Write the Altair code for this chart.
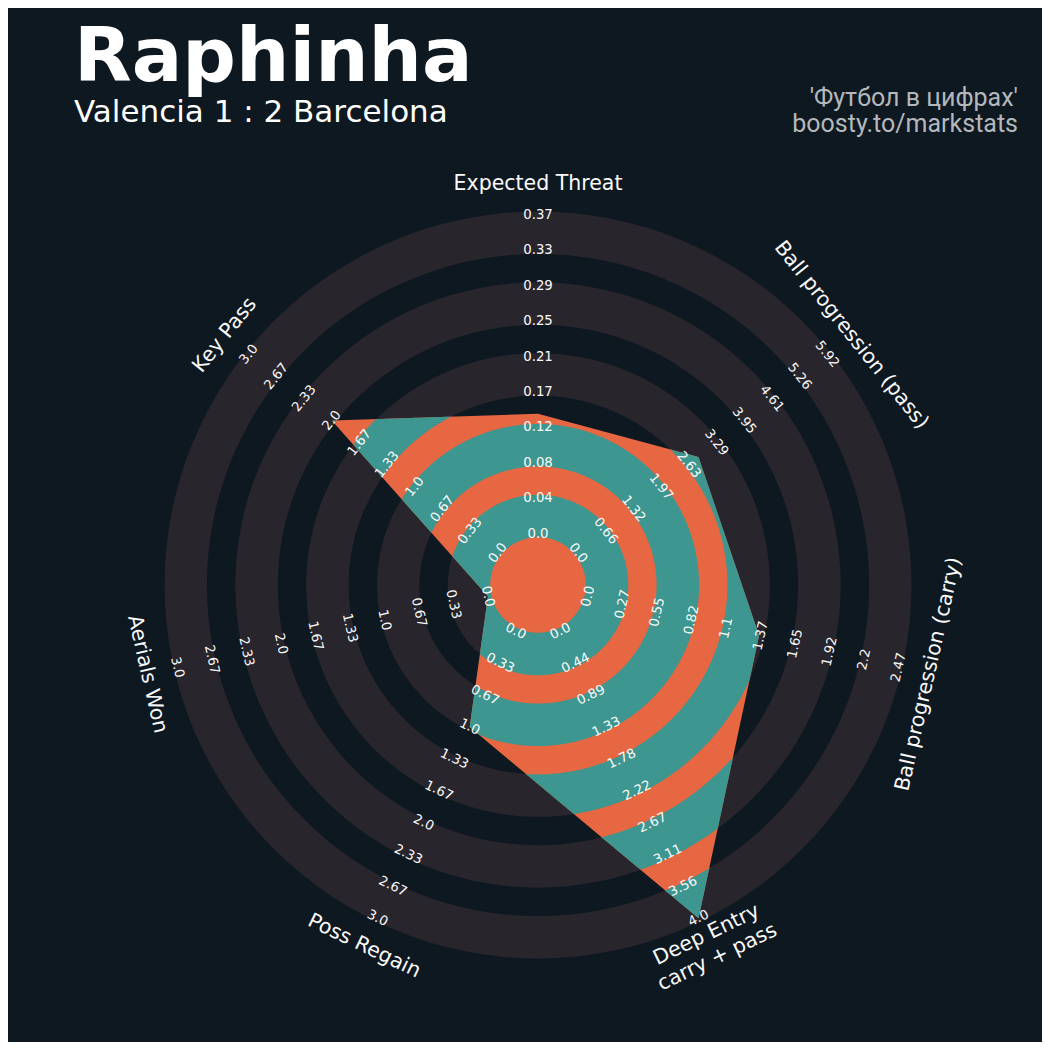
import math
import altair as alt
import pandas as pd

# ---------------- data ----------------
params = ["Expected Threat", "Ball progression (pass)", "Ball progression (carry)",
          "Deep Entry\ncarry + pass", "Poss Regain", "Aerials Won", "Key Pass"]
values = [0.14, 2.86, 1.36, 4.0, 1.0, 0.0, 2.0]
min_range = [0.0, 0.0, 0.0, 0.0, 0.0, 0.0, 0.0]
max_range = [0.372, 5.92, 2.47, 4.0, 3.0, 3.0, 3.0]
labels_xt = ["0.0", "0.04", "0.08", "0.12", "0.17", "0.21", "0.25", "0.29", "0.33", "0.37"]
labels_pass = ["0.0", "0.66", "1.32", "1.97", "2.63", "3.29", "3.95", "4.61", "5.26", "5.92"]
labels_carry = ["0.0", "0.27", "0.55", "0.82", "1.1", "1.37", "1.65", "1.92", "2.2", "2.47"]
labels_deep = ["0.0", "0.44", "0.89", "1.33", "1.78", "2.22", "2.67", "3.11", "3.56", "4.0"]
labels_three = ["0.0", "0.33", "0.67", "1.0", "1.33", "1.67", "2.0", "2.33", "2.67", "3.0"]
range_labels = [labels_xt, labels_pass, labels_carry, labels_deep,
                labels_three, labels_three, labels_three]
title_text = ["Raphinha"]
subtitle_text = ["Valencia 1 : 2 Barcelona"]
credit_line1 = ["'Футбол в цифрах'"]
credit_line2 = ["boosty.to/markstats"]

# ---------------- style ----------------
BG = "#0e1820"
GRAY = "#28252c"
TEAL = "#3d968f"
ORANGE = "#e66741"
TXT = "#fafafa"

PX = 35.4          # pixels per radial unit
C = 1.45           # centre circle radius (units)
NR = 9             # label steps
E = 0.1            # ring widening
W = H = 1034
CX, CY = 530.0, 577.0   # centre in plot pixels
PAR_FS = 20.5
PAR_LH = 25.0
xdom = [-CX / PX, (W - CX) / PX]
ydom = [-(H - CY) / PX, CY / PX]
XS = alt.Scale(domain=xdom, nice=False, zero=False)
YS = alt.Scale(domain=ydom, nice=False, zero=False)

n = len(params)
angles = [i * 360.0 / n for i in range(n)]


def pos(r, th_deg):
    t = math.radians(th_deg)
    return r * math.sin(t), r * math.cos(t)


# ---------------- background rings ----------------
ring_rows = []
for j in range(5):
    ring_rows.append({"cx": 0.0, "cy": 0.0, "ri": C + 2 * j - E, "ro": C + 2 * j + 1 + E})
rings_df = pd.DataFrame(ring_rows)

# ---------------- polygon ----------------
radii = [C + NR * (v - lo) / (hi - lo) for v, lo, hi in zip(values, min_range, max_range)]
verts = [pos(r, a) for r, a in zip(radii, angles)]
poly_df = pd.DataFrame({"x": [p[0] for p in verts], "y": [p[1] for p in verts],
                        "i": list(range(n))})


def cross(a, b):
    return a[0] * b[1] - a[1] * b[0]


def R_of(th):
    th = th % 360.0
    i = min(int(th // (360.0 / n)), n - 1)
    p0 = verts[i]
    p1 = verts[(i + 1) % n]
    e = (p1[0] - p0[0], p1[1] - p0[1])
    t = math.radians(th)
    d = (math.sin(t), math.cos(t))
    return cross(p0, e) / cross(d, e)


thetas = sorted(set([k * 0.5 for k in range(720)] + angles))
thetas.append(360.0)
teal_rows = []
for j in range(5):
    a = C + 2 * j - E
    b = C + 2 * j + 1 + E
    k = 0
    for th in thetas:
        r = min(max(R_of(th), a), b)
        x, y = pos(r, th)
        teal_rows.append({"ring": j, "o": k, "x": x, "y": y})
        k += 1
    for th in reversed(thetas):
        x, y = pos(a, th)
        teal_rows.append({"ring": j, "o": k, "x": x, "y": y})
        k += 1
teal_df = pd.DataFrame(teal_rows)


def rot(th):
    r = th - 180 if 90 < th < 270 else th
    return r % 360


# ---------------- range labels ----------------
lab_rows = []
for i, a in enumerate(angles):
    for k, t in enumerate(range_labels[i]):
        x, y = pos(C + k, a)
        lab_rows.append({"x": x, "y": y, "t": t, "ang": rot(a)})
lab_df = pd.DataFrame(lab_rows)

par_rows = []
for i, a in enumerate(angles):
    nlines = params[i].count("\n") + 1
    shift = (nlines - 1) / 2 * PAR_LH / PX
    lower = 90 < a < 270
    r = C + NR + 0.87 + (-shift if lower else shift)
    x, y = pos(r, a)
    par_rows.append({"x": x, "y": y, "t": params[i], "ang": rot(a)})
par_df = pd.DataFrame(par_rows)

# ---------------- layers ----------------
enc_xy = dict(x=alt.X("x:Q", scale=XS, axis=None), y=alt.Y("y:Q", scale=YS, axis=None))

rings = alt.Chart(rings_df).mark_arc(color=GRAY).encode(
    x=alt.X("cx:Q", scale=XS, axis=None),
    y=alt.Y("cy:Q", scale=YS, axis=None),
    radius=alt.Radius("ro:Q", scale=alt.Scale(type="linear", domain=[0, 10], range=[0, 10 * PX], zero=True)),
    radius2=alt.Radius2("ri:Q"),
    theta=alt.value(0),
    theta2=alt.value(2 * math.pi),
)

poly = alt.Chart(poly_df).mark_line(filled=True, interpolate="linear-closed", color=ORANGE).encode(
    order=alt.Order("i:Q"), **enc_xy)

teal = alt.Chart(teal_df).mark_line(filled=True, interpolate="linear-closed", color=TEAL).encode(
    order=alt.Order("o:Q"), detail=alt.Detail("ring:N"), **enc_xy)

labs = alt.Chart(lab_df).mark_text(font="DejaVu Sans", fontSize=13.3, color=TXT,
                                   align="center", baseline="middle").encode(
    text="t:N", angle=alt.Angle("ang:Q", scale=None), **enc_xy)

pars = alt.Chart(par_df).mark_text(font="DejaVu Sans", fontSize=PAR_FS, color=TXT,
                                   align="center", baseline="middle", lineBreak="\n",
                                   lineHeight=PAR_LH).encode(
    text="t:N", angle=alt.Angle("ang:Q", scale=None), **enc_xy)

title = alt.Chart(pd.DataFrame({"t": title_text})).mark_text(
    font="DejaVu Sans", fontWeight="bold", fontSize=75, color="white",
    align="left", baseline="alphabetic").encode(text="t:N", x=alt.value(66), y=alt.value(73))

subtitle = alt.Chart(pd.DataFrame({"t": subtitle_text})).mark_text(
    font="DejaVu Sans", fontSize=31, color="white",
    align="left", baseline="alphabetic").encode(text="t:N", x=alt.value(66), y=alt.value(114))

credit1 = alt.Chart(pd.DataFrame({"t": credit_line1})).mark_text(
    font="Roboto", fontSize=25, color="#b4b8bc",
    align="right", baseline="alphabetic").encode(text="t:N", x=alt.value(1010), y=alt.value(98))

credit2 = alt.Chart(pd.DataFrame({"t": credit_line2})).mark_text(
    font="Roboto", fontSize=25, color="#b4b8bc",
    align="right", baseline="alphabetic").encode(text="t:N", x=alt.value(1010), y=alt.value(124))

chart = alt.layer(rings, poly, teal, labs, pars, title, subtitle, credit1, credit2).properties(
    width=W, height=H, background=BG, padding=0,
    autosize=alt.AutoSizeParams(type="none"),
).configure_view(strokeWidth=0)

chart.save("out.html", embed_options={"renderer": "svg", "actions": False})
